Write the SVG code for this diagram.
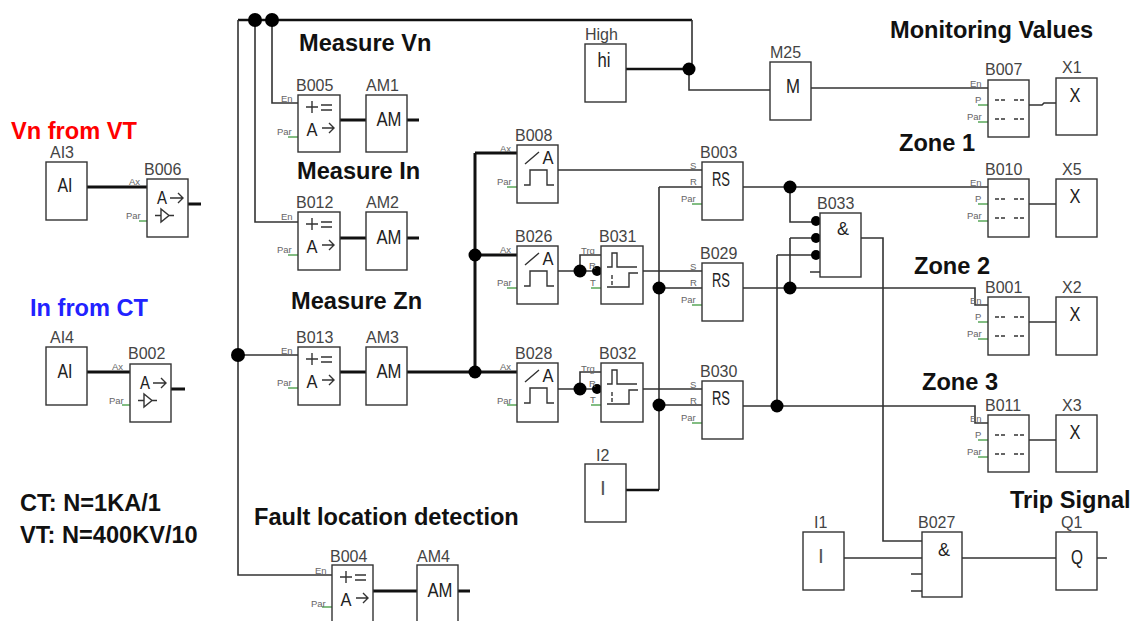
<svg xmlns="http://www.w3.org/2000/svg" width="1139" height="621" viewBox="0 0 1139 621">
<style>
text{font-family:"Liberation Sans",Arial,sans-serif}
.b{fill:#fff;stroke:#333;stroke-width:1.4}
.n{font-size:16px;fill:#444;transform:translateY(1px)}
.g{font-size:18px;fill:#222;text-anchor:middle}
.gc{font-size:21px;fill:#222;text-anchor:middle}
.t{font-size:23.6px;font-weight:bold;fill:#111}
.s{font-size:9.5px;fill:#666}
.w{fill:none;stroke:#333;stroke-width:1.6}
.k{fill:none;stroke:#111;stroke-width:3}
.k2{fill:none;stroke:#111;stroke-width:2.4}
.p{fill:none;stroke:#5aa85a;stroke-width:1.4}
.i{fill:none;stroke:#333;stroke-width:1.4}
</style>
<defs>
<g id="rate"><path class="i" d="M8 12h12M14 6v12M23 10h11M23 15h11"/><text class="g" x="14" y="41" textLength="11" lengthAdjust="spacingAndGlyphs">A</text><path class="i" d="M24 33h12M31 28l5 5-5 5"/></g>
<g id="thr"><path class="i" d="M8 19l14-12M7 40h6V25h17V40h7"/><text class="g" x="31" y="19" textLength="11" lengthAdjust="spacingAndGlyphs">A</text></g>
<g id="dly"><path class="i" d="M6 21H11V7H16V21H36M6 41H28V27H37"/><path class="i" stroke-dasharray="4 2" d="M11 29V41"/></g>
<g id="amp"><text class="g" x="15" y="25" textLength="10" lengthAdjust="spacingAndGlyphs">A</text><path class="i" d="M23 19H36M31 14l5 5-5 5M8 36.500H14M22 36.500H27M14 30V43L22 36.500z"/></g>
<g id="msg"><path class="i" stroke-dasharray="4 2" d="M7 20H18M26 20H37M7 39H18M26 39H37"/></g>
</defs>

<g id="connectors">
<path class="k2" d="M238 20H692"/>
<path class="w" d="M238 20V575H332M255 20V222H298M272 20V103H298M238 355H298"/>
<path class="w" d="M692 20V69M689 69V90H770M811 88H988"/>
<path class="k2" d="M626 69H689"/>
<path class="k" d="M87 187H147M87 372H130"/>
<path class="k" d="M188 204H201M171 389H185"/>
<path class="k" d="M340 120H366M407 120H419M340 238H366M407 238H419"/>
<path class="k" d="M340 372H366M407 372H475M475 153V372M475 153H517M475 255H517M475 372H517M373 591H417M458 591H470"/>
<path class="w" d="M558 170H702M659 187H702M659 187V490"/>
<path class="k2" d="M626 490H659"/>
<path class="w" d="M558 271H597M580 271V255H601M643 271H702M659 288H702M558 389H597M580 389V372H601M643 389H702M659 405H702"/>
<path class="w" d="M743 187H988M790 187V222H816M790 238V288M790 238H816M777 255V406M777 255H816M743 288H975V305H988M743 406H975V423H988"/>
<path class="w" d="M861 238H883V541H922M844 558H922M962 558H1056M1097 558H1107M810 272H820M911 574H922M911 591H922"/>
<path class="w" d="M1029 105H1042L1044 103H1056M1029 204H1056M1029 322H1056M1029 440H1056"/>
<g fill="#000">
<circle cx="255" cy="20" r="7"/><circle cx="272" cy="20" r="7"/><circle cx="238" cy="355" r="7"/><circle cx="689" cy="69" r="6.500"/>
<circle cx="475" cy="255" r="6.500"/><circle cx="475" cy="372" r="6.500"/>
<circle cx="580" cy="271" r="6.500"/><circle cx="597" cy="271" r="5"/><circle cx="580" cy="389" r="6.500"/><circle cx="597" cy="389" r="5"/>
<circle cx="659" cy="288" r="6.500"/><circle cx="659" cy="405" r="6.500"/>
<circle cx="790" cy="187" r="6.500"/><circle cx="790" cy="288" r="6.500"/><circle cx="777" cy="406" r="6.500"/>
<circle cx="816" cy="221" r="5"/><circle cx="816" cy="238" r="5"/><circle cx="816" cy="255" r="5"/>
</g>
<path class="p" d="M139 221H147M122 405H130M288 137H298M288 255H298M288 388H298M322 607H332M507 187H517M507 288H517M507 405H517M591 288H601M591 405H601M692 204H702M692 305H702M692 423H702M978 105H988M978 122H988M978 204H988M978 221H988M978 322H988M978 339H988M978 440H988M978 457H988"/>
</g>

<g id="titles" transform="translate(0,1)">
<text class="t" x="11" y="138" style="fill:#f00">Vn from VT</text>
<text class="t" x="30" y="315" style="fill:#22f">In from CT</text>
<text class="t" x="299" y="50">Measure Vn</text>
<text class="t" x="297" y="178">Measure In</text>
<text class="t" x="291" y="308">Measure Zn</text>
<text class="t" x="254" y="524">Fault location detection</text>
<text class="t" x="890" y="37">Monitoring Values</text>
<text class="t" x="899" y="150">Zone 1</text>
<text class="t" x="914" y="273">Zone 2</text>
<text class="t" x="922" y="389">Zone 3</text>
<text class="t" x="1010" y="507">Trip Signal</text>
<text class="t" x="20" y="510">CT: N=1KA/1</text>
<text class="t" x="20" y="542">VT: N=400KV/10</text>
</g>

<g id="AI3"><text class="n" x="50" y="157">AI3</text><rect class="b" x="46" y="162" width="41" height="58"/><text class="gc" x="65" y="192" textLength="15" lengthAdjust="spacingAndGlyphs">AI</text></g>
<g id="B006"><text class="n" x="144" y="174">B006</text><rect class="b" x="147" y="179" width="41" height="58"/><use href="#amp" x="147" y="179"/><text class="s" x="129" y="185">Ax</text><text class="s" x="126" y="219">Par</text></g>
<g id="AI4"><text class="n" x="50" y="342">AI4</text><rect class="b" x="46" y="347" width="41" height="58"/><text class="gc" x="65" y="378" textLength="15" lengthAdjust="spacingAndGlyphs">AI</text></g>
<g id="B002"><text class="n" x="128" y="358">B002</text><rect class="b" x="130" y="364" width="41" height="58"/><use href="#amp" x="130" y="364"/><text class="s" x="112" y="370">Ax</text><text class="s" x="109" y="404">Par</text></g>

<g id="B005"><text class="n" x="296" y="90">B005</text><rect class="b" x="298" y="95" width="42" height="57"/><use href="#rate" x="298" y="95"/><text class="s" x="281" y="102">En</text><text class="s" x="277" y="135">Par</text></g>
<g id="AM1"><text class="n" x="366" y="90">AM1</text><rect class="b" x="366" y="95" width="41" height="57"/><text class="gc" x="389" y="126" textLength="25" lengthAdjust="spacingAndGlyphs">AM</text></g>
<g id="B012"><text class="n" x="296" y="207">B012</text><rect class="b" x="298" y="212" width="42" height="58"/><use href="#rate" x="298" y="212"/><text class="s" x="281" y="220">En</text><text class="s" x="277" y="253">Par</text></g>
<g id="AM2"><text class="n" x="366" y="207">AM2</text><rect class="b" x="366" y="212" width="41" height="58"/><text class="gc" x="389" y="244" textLength="25" lengthAdjust="spacingAndGlyphs">AM</text></g>
<g id="B013"><text class="n" x="296" y="342">B013</text><rect class="b" x="298" y="347" width="42" height="58"/><use href="#rate" x="298" y="347"/><text class="s" x="281" y="354">En</text><text class="s" x="277" y="386">Par</text></g>
<g id="AM3"><text class="n" x="366" y="342">AM3</text><rect class="b" x="366" y="347" width="41" height="58"/><text class="gc" x="389" y="378" textLength="25" lengthAdjust="spacingAndGlyphs">AM</text></g>
<g id="B004"><text class="n" x="330" y="561">B004</text><rect class="b" x="332" y="565" width="41" height="60"/><use href="#rate" x="332" y="565"/><text class="s" x="315" y="574">En</text><text class="s" x="311" y="607">Par</text></g>
<g id="AM4"><text class="n" x="417" y="561">AM4</text><rect class="b" x="417" y="565" width="41" height="60"/><text class="gc" x="440" y="597" textLength="25" lengthAdjust="spacingAndGlyphs">AM</text></g>

<g id="B008"><text class="n" x="515" y="140">B008</text><rect class="b" x="517" y="145" width="41" height="58"/><use href="#thr" x="517" y="145"/><text class="s" x="500" y="152">Ax</text><text class="s" x="497" y="185">Par</text></g>
<g id="B026"><text class="n" x="515" y="241">B026</text><rect class="b" x="517" y="246" width="41" height="58"/><use href="#thr" x="517" y="246"/><text class="s" x="500" y="253">Ax</text><text class="s" x="497" y="286">Par</text></g>
<g id="B028"><text class="n" x="515" y="358">B028</text><rect class="b" x="517" y="363" width="41" height="59"/><use href="#thr" x="517" y="363"/><text class="s" x="500" y="370">Ax</text><text class="s" x="497" y="404">Par</text></g>
<g id="B031"><text class="n" x="599" y="241">B031</text><rect class="b" x="601" y="246" width="42" height="58"/><use href="#dly" x="601" y="246"/><text class="s" x="581" y="254">Trg</text><text class="s" x="589" y="269">R</text><text class="s" x="590" y="286">T</text></g>
<g id="B032"><text class="n" x="599" y="358">B032</text><rect class="b" x="601" y="363" width="42" height="59"/><use href="#dly" x="601" y="363"/><text class="s" x="581" y="372">Trg</text><text class="s" x="589" y="387">R</text><text class="s" x="590" y="403">T</text></g>
<g id="B003"><text class="n" x="700" y="157">B003</text><rect class="b" x="702" y="162" width="41" height="58"/><text class="gc" x="721" y="186" textLength="18" lengthAdjust="spacingAndGlyphs">RS</text><text class="s" x="690" y="169">S</text><text class="s" x="690" y="185">R</text><text class="s" x="681" y="202">Par</text></g>
<g id="B029"><text class="n" x="700" y="258">B029</text><rect class="b" x="702" y="263" width="41" height="58"/><text class="gc" x="721" y="287" textLength="18" lengthAdjust="spacingAndGlyphs">RS</text><text class="s" x="690" y="270">S</text><text class="s" x="690" y="286">R</text><text class="s" x="681" y="303">Par</text></g>
<g id="B030"><text class="n" x="700" y="376">B030</text><rect class="b" x="702" y="381" width="41" height="58"/><text class="gc" x="721" y="405" textLength="18" lengthAdjust="spacingAndGlyphs">RS</text><text class="s" x="690" y="388">S</text><text class="s" x="690" y="404">R</text><text class="s" x="681" y="421">Par</text></g>
<g id="I2"><text class="n" x="596" y="460">I2</text><rect class="b" x="585" y="464" width="41" height="58"/><text class="gc" x="603" y="495" style="fill:#555">I</text></g>
<g id="High"><text class="n" x="585" y="39">High</text><rect class="b" x="585" y="44" width="41" height="58"/><text class="gc" x="604" y="67" textLength="13" lengthAdjust="spacingAndGlyphs">hi</text></g>
<g id="M25"><text class="n" x="770" y="57">M25</text><rect class="b" x="770" y="62" width="41" height="58"/><text class="gc" x="793" y="93" textLength="14" lengthAdjust="spacingAndGlyphs">M</text></g>

<g id="B033"><text class="n" x="817" y="208">B033</text><rect class="b" x="820" y="213" width="41" height="64"/><text class="g" x="843" y="235">&amp;</text></g>
<g id="B027"><text class="n" x="918" y="527">B027</text><rect class="b" x="922" y="532" width="40" height="65"/><text class="g" x="944" y="556">&amp;</text></g>
<g id="I1"><text class="n" x="814" y="527">I1</text><rect class="b" x="803" y="532" width="41" height="58"/><text class="gc" x="821" y="563" style="fill:#555">I</text></g>
<g id="Q1"><text class="n" x="1061" y="527">Q1</text><rect class="b" x="1056" y="532" width="41" height="58"/><text class="gc" x="1077" y="564" textLength="12" lengthAdjust="spacingAndGlyphs">Q</text></g>

<g id="B007"><text class="n" x="985" y="74">B007</text><rect class="b" x="988" y="80" width="41" height="57"/><use href="#msg" x="988" y="80"/><text class="s" x="970" y="87">En</text><text class="s" x="975" y="103">P</text><text class="s" x="967" y="120">Par</text></g>
<g id="X1"><text class="n" x="1062" y="72">X1</text><rect class="b" x="1056" y="78" width="41" height="57"/><text class="gc" x="1075" y="102" textLength="11" lengthAdjust="spacingAndGlyphs">X</text></g>
<g id="B010"><text class="n" x="985" y="174">B010</text><rect class="b" x="988" y="179" width="41" height="58"/><use href="#msg" x="988" y="179"/><text class="s" x="970" y="186">En</text><text class="s" x="975" y="202">P</text><text class="s" x="967" y="219">Par</text></g>
<g id="X5"><text class="n" x="1062" y="174">X5</text><rect class="b" x="1056" y="179" width="41" height="58"/><text class="gc" x="1075" y="203" textLength="11" lengthAdjust="spacingAndGlyphs">X</text></g>
<g id="B001"><text class="n" x="985" y="292">B001</text><rect class="b" x="988" y="297" width="41" height="58"/><use href="#msg" x="988" y="297"/><text class="s" x="970" y="304">En</text><text class="s" x="975" y="320">P</text><text class="s" x="967" y="337">Par</text></g>
<g id="X2"><text class="n" x="1062" y="292">X2</text><rect class="b" x="1056" y="297" width="41" height="58"/><text class="gc" x="1075" y="321" textLength="11" lengthAdjust="spacingAndGlyphs">X</text></g>
<g id="B011"><text class="n" x="985" y="410">B011</text><rect class="b" x="988" y="415" width="41" height="57"/><use href="#msg" x="988" y="415"/><text class="s" x="970" y="422">En</text><text class="s" x="975" y="438">P</text><text class="s" x="967" y="455">Par</text></g>
<g id="X3"><text class="n" x="1062" y="410">X3</text><rect class="b" x="1056" y="415" width="41" height="57"/><text class="gc" x="1075" y="439" textLength="11" lengthAdjust="spacingAndGlyphs">X</text></g>
</svg>
